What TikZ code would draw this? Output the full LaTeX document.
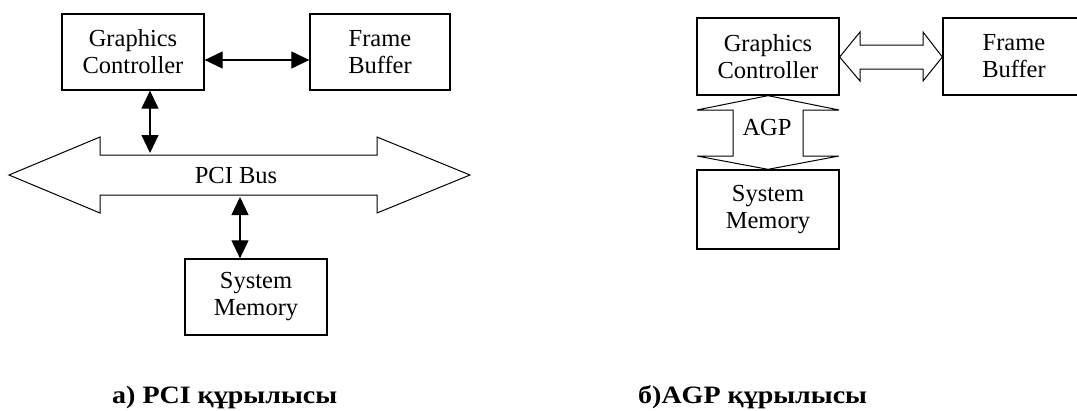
\documentclass[tikz,border=0pt]{standalone}
\usepackage{fontspec}
\setmainfont{Liberation Serif}
\newfontfamily\capfont[FakeStretch=1.12]{Liberation Serif}
\usetikzlibrary{arrows.meta}

\tikzset{
  blk/.style={draw, line width=1.3pt, inner sep=0pt, align=center,
    font=\fontsize{24.5}{27}\selectfont},
  biarrow/.style={line width=1.2pt,
    {Triangle[length=18pt,width=17pt]}-{Triangle[length=18pt,width=17pt]}},
  hollow/.style={draw, line width=1pt, line join=miter},
  lbl/.style={inner sep=0pt, font=\fontsize{24.5}{27}\selectfont},
  caption/.style={inner sep=0pt, anchor=base west,
    font=\capfont\bfseries\fontsize{25}{28}\selectfont}
}

\begin{document}
\begin{tikzpicture}[x=1pt, y=-1pt]
\useasboundingbox (0,0) rectangle (1077,410);

% ---------- (a) PCI ----------
\node[blk, minimum width=142pt, minimum height=76pt] (gcA) at (133,52)
  {Graphics\\Controller};
\node[blk, minimum width=140pt, minimum height=76pt] (fbA) at (380,52)
  {Frame\\Buffer};
\node[blk, minimum width=142pt, minimum height=76pt] (smA) at (256,297)
  {System\\Memory};

% PCI bus: hollow double arrow
\draw[hollow] (9,175) -- (100,137) -- (100,155) -- (377,155) -- (377,137)
  -- (470,175) -- (377,213) -- (377,195) -- (100,195) -- (100,213) -- cycle;
\node[lbl] (pci) at (236,176) {PCI Bus};
\coordinate (busTop) at (150,153);
\coordinate (busBot) at (240,197);

\draw[biarrow] (gcA.east |- 0,60) -- (fbA.west |- 0,60);
\draw[biarrow] (gcA.south -| busTop) -- (busTop);
\draw[biarrow] (busBot) -- (smA.north -| busBot);

% ---------- (b) AGP ----------
\node[blk, minimum width=142pt, minimum height=77pt] (gcB) at (768,56.5)
  {Graphics\\Controller};
\node[blk, minimum width=142pt, minimum height=77pt] (fbB) at (1014,56.5)
  {Frame\\Buffer};
\node[blk, minimum width=142pt, minimum height=79pt] (smB) at (768,209.5)
  {System\\Memory};

% graphics controller <-> frame buffer: hollow double arrow
\draw[hollow] (gcB.east |- 0,57) -- (860,32) -- (860,45) -- (923,45) -- (923,32)
  -- (fbB.west |- 0,57) -- (923,81) -- (923,69) -- (860,69) -- (860,81) -- cycle;

% AGP port: vertical hollow double arrow
\draw[hollow] (gcB.south) -- (839,110) -- (803,110) -- (803,156) -- (839,156)
  -- (smB.north) -- (697,156) -- (733,156) -- (733,110) -- (697,110) -- cycle;
\node[lbl] (agp) at (767,128) {AGP};

% ---------- captions ----------
\node[caption] (capA) at (112,403) {а) PCI құрылысы};
\node[caption] (capB) at (638,403) {б)AGP құрылысы};
\end{tikzpicture}
\end{document}
